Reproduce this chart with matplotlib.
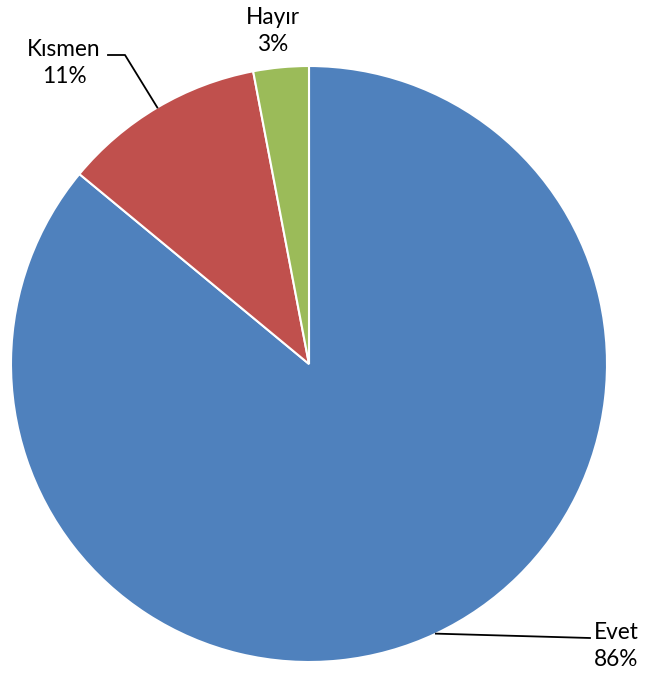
import numpy as np
import matplotlib
matplotlib.use("Agg")
import matplotlib.pyplot as plt

categories = ["Evet", "Kısmen", "Hayır"]
values = [86, 11, 3]
colors = ["#4F81BD", "#C0504D", "#9BBB59"]

W, H = 647, 680
fig = plt.figure(figsize=(W / 100, H / 100), dpi=100)
ax = fig.add_axes([0, 0, 1, 1])

cx, cy, R = 309, H - 364, 298
wedges, _ = ax.pie(values, colors=colors, startangle=90, counterclock=False,
                   center=(cx, cy), radius=R, frame=True,
                   wedgeprops=dict(edgecolor="white", linewidth=1.5))
ax.set_xlim(0, W)
ax.set_ylim(0, H)
ax.set_aspect("equal")
ax.axis("off")

font = dict(family="Lato", fontsize=16.3, color="black", linespacing=1.4)

def edge_point(w):
    ang = np.deg2rad((w.theta1 + w.theta2) / 2)
    return cx + R * np.cos(ang), cy + R * np.sin(ang)

# Evet
ex, ey = edge_point(wedges[0])
ax.plot([ex, 590], [ey, H - 638], color="black", lw=1.3)
ax.text(616, H - 646, f"{categories[0]}\n{values[0]}%", ha="center", va="center", **font)

# Kısmen
kx, ky = edge_point(wedges[1])
ax.plot([108, 125, kx], [H - 55, H - 55, ky], color="black", lw=1.3)
ax.text(64, H - 63, f"{categories[1]}\n{values[1]}%", ha="center", va="center", **font)

# Hayır
ax.text(273, H - 31, f"{categories[2]}\n{values[2]}%", ha="center", va="center", **font)

fig.savefig("out.png", dpi=100)
